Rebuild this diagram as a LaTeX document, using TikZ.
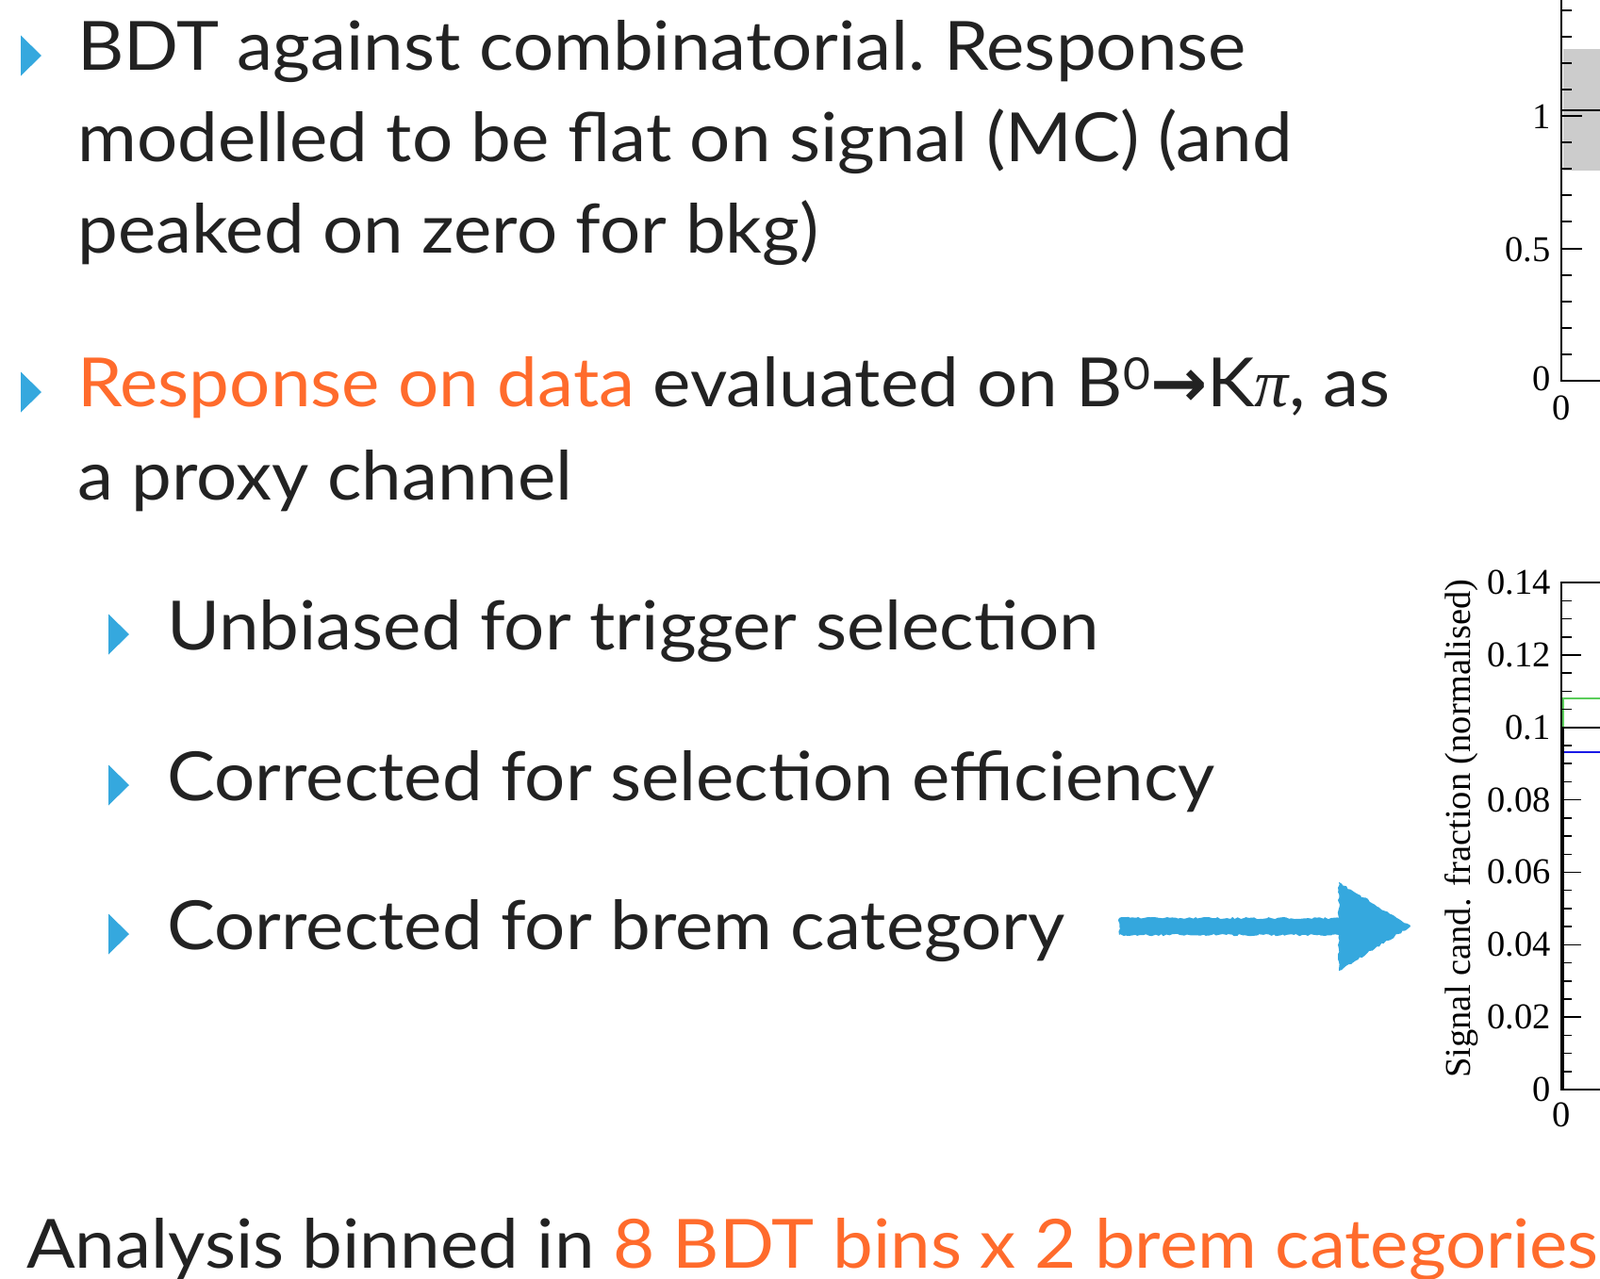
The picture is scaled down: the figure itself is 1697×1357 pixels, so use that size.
\documentclass[tikz,border=0pt]{standalone}
\usepackage{fontspec}
\setmainfont[FakeStretch=1.06]{Lato}
\newfontfamily\plotfont{Liberation Serif}
\newfontfamily\arrowfont{DejaVu Sans}
\usepackage{xcolor}
\usetikzlibrary{positioning, calc, decorations.pathmorphing}
\definecolor{sdark}{HTML}{222222}
\definecolor{sblue}{HTML}{35A8DE}
\definecolor{sorange}{HTML}{FF6B2C}
\definecolor{sgray}{HTML}{CCCCCC}
\definecolor{sgreen}{HTML}{5ACD5A}
\definecolor{sline}{HTML}{1A1AE6}
\newcommand{\supzero}{\raisebox{18pt}{\fontsize{47}{50}\selectfont 0}}
\tikzset{
  bodytext/.style={anchor=base west, inner sep=0pt, text=sdark,
                   font=\fontsize{72}{86}\selectfont\frenchspacing},
  ticklab/.style={inner sep=0pt, text=black, font=\plotfont\fontsize{38.5}{40}\selectfont},
  plotaxis/.style={line width=2.5, black, line cap=rect},
  tri/.pic={\fill[sblue] (0,-21.5) -- (22,0) -- (0,21.5) -- cycle;},
}

\begin{document}
\begin{tikzpicture}[x=1pt, y=-1pt]
  \useasboundingbox (0,0) rectangle (1697,1357);

  %% -- bullet list --
  \pic at (22,59) {tri};
  \node[bodytext] (bdt1) at (82,74) {BDT against combinatorial. Response};
  \node[bodytext] (bdt2) at (82,171) {modelled to be flat on signal (MC) (and};
  \node[bodytext] (bdt3) at (82,268) {peaked on zero for bkg)};

  \pic at (22,416) {tri};
  \node[bodytext] (resp1) at (82,431)
    {{\color{sorange}Response on data} evaluated on B\supzero{\arrowfont\bfseries →}K{\plotfont\itshape π}, as};
  \node[bodytext] (resp2) at (82,530) {a proxy channel};

  % sub items
  \pic at (115,673) {tri};
  \node[bodytext] (sub1) at (177,689) {Unbiased for trigger selection};
  \pic at (115,833) {tri};
  \node[bodytext] (sub2) at (177,849) {Corrected for selection efficiency};
  \pic at (115,991) {tri};
  \node[bodytext] (sub3) at (177,1007) {Corrected for brem category};

  %% chalk arrow towards the plot
  \coordinate (atail) at (1187,983);
  \coordinate (atip) at (1496,983);
  \fill[sblue, decorate, decoration={random steps, segment length=3pt, amplitude=1.2pt}]
    ($(atail)+(0,-9)$) -- (1420,974) -- (1420,936) -- (atip)
    -- (1420,1030) -- (1420,992) -- ($(atail)+(0,9)$) -- cycle;

  %% -- top plot (cut at the page edge) --
  \fill[sgray] (1657.5,52) rectangle (1700,181);
  \draw[line width=2] (1656,117) -- (1700,117);
  \draw[plotaxis] (1656,-5) -- (1656,404) -- (1700,404);
  \foreach \i in {1,...,14}{
    \pgfmathsetmacro\ty{404-28.1*\i}
    \pgfmathsetmacro\tl{mod(\i,5)==0 ? 22 : 11}
    \draw[line width=2] (1656,\ty) -- ++(\tl,0);
  }
  \node[ticklab, anchor=east] (topone) at (1645,124) {1};
  \node[ticklab, anchor=east] (tophalf) at (1645,265) {0.5};
  \node[ticklab, anchor=east] (topzero) at (1645,402) {0};
  \node[ticklab, anchor=north] (topxzero) at (1656,420) {0};

  %% -- bottom plot --
  \draw[sgreen, line width=1.5] (1658,771) -- (1658,741) -- (1700,741);
  \draw[sline, line width=1.5] (1656,798) -- (1700,798);
  \draw[line width=2] (1656,772) -- (1700,772);
  \draw[line width=3.5] (1657,772) -- (1657,1156);
  \draw[plotaxis] (1700,618) -- (1656,618) -- (1656,1156) -- (1700,1156);
  \foreach \i in {1,...,27}{
    \pgfmathsetmacro\ty{1156-19.21*\i}
    \pgfmathsetmacro\tl{mod(\i,4)==0 ? 21 : 11}
    \draw[line width=1.5] (1656,\ty) -- ++(\tl,0);
  }
  \foreach \v/\lab in {1/0.02, 2/0.04, 3/0.06, 4/0.08, 5/0.1, 6/0.12, 7/0.14}{
    \node[ticklab, anchor=east] (ylab\v) at (1645,1156-76.85*\v) {\lab};
  }
  \node[ticklab, anchor=east] (botzero) at (1645,1156) {0};
  \node[ticklab, anchor=north] (botxzero) at (1656,1170) {0};
  \node[ticklab, rotate=90] (ytitle) at (1550,879) {Signal cand. fraction (normalised)};

  %% -- summary line --
  \node[bodytext] (summary) at (28,1345)
    {Analysis binned in {\color{sorange}8 BDT bins x 2 brem categories}};
\end{tikzpicture}
\end{document}
